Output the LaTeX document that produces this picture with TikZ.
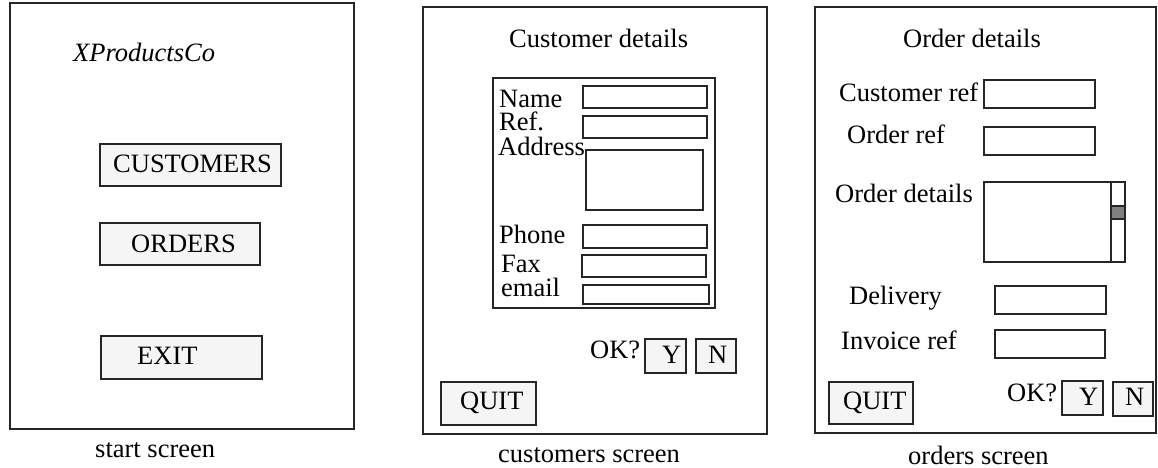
\documentclass[tikz,border=0pt]{standalone}
\usepackage{fontspec}
\setmainfont{Liberation Serif}
\definecolor{lc}{HTML}{262626}
\definecolor{btnfill}{HTML}{F5F5F5}
\definecolor{thumb}{HTML}{808080}
\begin{document}
\begin{tikzpicture}[x=1pt,y=-1pt,
  every node/.style={font=\fontsize{26.5}{28}\selectfont},
  sz/.style 2 args={minimum width=#1pt,minimum height=#2pt,anchor=north west,inner sep=0pt,outer sep=0pt},
  frame/.style={draw=lc,line width=1.3pt},
  field/.style={draw=lc,line width=1.3pt,fill=white},
  btn/.style={draw=lc,line width=1.3pt,fill=btnfill},
  lbl/.style={anchor=base west,inner sep=0pt,text=black}]
\useasboundingbox (0,0) rectangle (1158,468);

% ---------- start screen ----------
\node[frame,sz={344}{426}] (s1) at (10,3) {};
\node[lbl,font=\fontsize{26.5}{28}\selectfont\itshape] (logo) at (73,62) {XProductsCo};
\node[btn,sz={181}{42}] (bcust) at (100,144) {};
\node[lbl] (tcust) at (113,172) {CUSTOMERS};
\node[btn,sz={160}{42}] (bord) at (100,223) {};
\node[lbl] (tord) at (131,252) {ORDERS};
\node[btn,sz={161}{43}] (bexit) at (101,336) {};
\node[lbl] (texit) at (137,364) {EXIT};
\node[lbl] (cap1) at (95,457) {start screen};

% ---------- customers screen ----------
\node[frame,sz={344}{427}] (s2) at (423,7) {};
\node[lbl] (ctitle) at (509,48) {Customer details};
\node[frame,sz={222}{230}] (cbox) at (493,78) {};
\node[lbl] (lname) at (499,107) {Name};
\node[field,sz={124}{22}] (fname) at (583,86) {};
\node[lbl] (lref) at (499,131) {Ref.};
\node[field,sz={124}{22}] (fref) at (583,116) {};
\node[lbl] (laddr) at (498,155) {Address};
\node[field,sz={117}{60}] (faddr) at (586,150) {};
\node[lbl] (lphone) at (499,243) {Phone};
\node[field,sz={124}{23}] (fphone) at (583,225) {};
\node[lbl] (lfax) at (501,272) {Fax};
\node[field,sz={124}{22}] (ffax) at (582,255) {};
\node[lbl] (lemail) at (501,296) {email};
\node[field,sz={126}{19}] (femail) at (583,285) {};
\node[lbl] (lok2) at (590,358) {OK?};
\node[btn,sz={41}{34}] (by2) at (645,339) {};
\node[lbl] (ty2) at (662,363) {Y};
\node[btn,sz={40}{34}] (bn2) at (696,339) {};
\node[lbl] (tn2) at (708,363) {N};
\node[btn,sz={95}{43}] (bq2) at (441,382) {};
\node[lbl] (tq2) at (460,409) {QUIT};
\node[lbl] (cap2) at (498,462) {customers screen};

% ---------- orders screen ----------
\node[frame,sz={341}{426}] (s3) at (815,7) {};
\node[lbl] (otitle) at (903,48) {Order details};
\node[lbl] (lcref) at (839,102) {Customer ref};
\node[field,sz={111}{28}] (fcref) at (984,80) {};
\node[lbl] (loref) at (847,143) {Order ref};
\node[field,sz={111}{28}] (foref) at (984,127) {};
\node[lbl] (lodet) at (835,202) {Order details};
\node[field,sz={141}{80}] (fodet) at (984,182) {};
\node[field,sz={14}{80}] (scroll) at (1111,182) {};
\node[draw=lc,line width=1.3pt,fill=thumb,sz={14}{13}] (thumbn) at (1111,206) {};
\node[lbl] (ldel) at (849,304) {Delivery};
\node[field,sz={111}{28}] (fdel) at (995,286) {};
\node[lbl] (linv) at (841,349) {Invoice ref};
\node[field,sz={110}{28}] (finv) at (995,330) {};
\node[btn,sz={84}{42}] (bq3) at (829,382) {};
\node[lbl] (tq3) at (843,409) {QUIT};
\node[lbl] (lok3) at (1007,401) {OK?};
\node[btn,sz={41}{34}] (by3) at (1062,381) {};
\node[lbl] (ty3) at (1079,405) {Y};
\node[btn,sz={40}{34}] (bn3) at (1113,382) {};
\node[lbl] (tn3) at (1125,405) {N};
\node[lbl] (cap3) at (908,464) {orders screen};
\end{tikzpicture}
\end{document}
